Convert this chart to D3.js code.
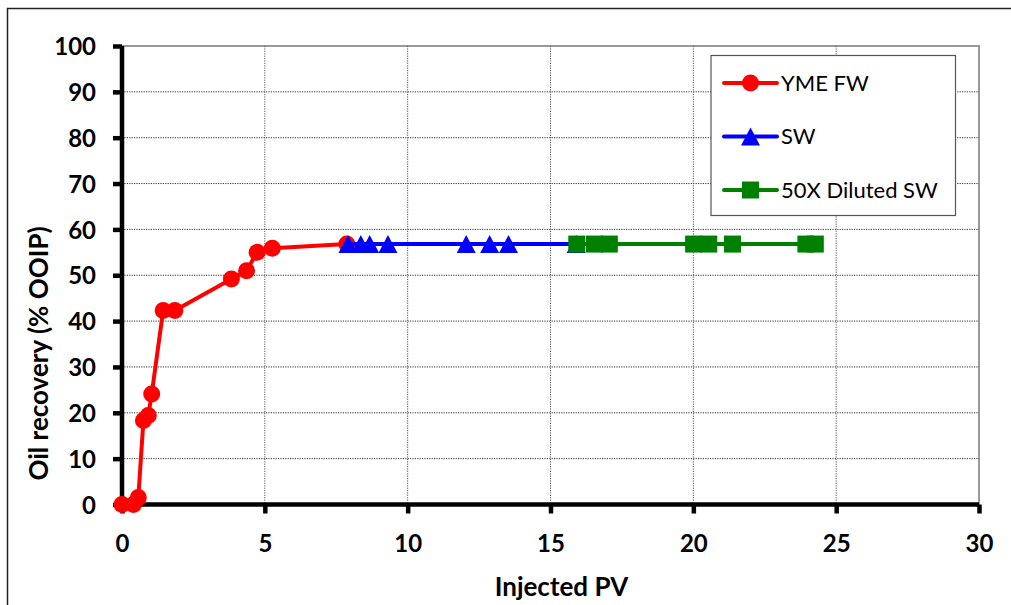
<!DOCTYPE html>
<html>
<head>
<meta charset="utf-8">
<script src="https://cdn.jsdelivr.net/npm/d3@7/dist/d3.min.js"></script>
<style>
  html, body { margin: 0; padding: 0; background: #fff; }
  svg { display: block; }
  text { font-family: Lato, "Open Sans", sans-serif; }
</style>
</head>
<body>
<svg id="chart" width="1011" height="605"></svg>
<script>
// Oil recovery vs injected pore volumes for three brine stages
const fwX = [0, 0.4, 0.57, 0.75, 0.92, 1.04, 1.44, 1.85, 3.83, 4.36, 4.73, 5.26, 7.87];
const fwY = [0, 0, 1.5, 18.3, 19.4, 24.1, 42.3, 42.3, 49.2, 51.0, 55.0, 55.9, 56.8];

const swX = [7.91, 8.36, 8.67, 9.31, 12.05, 12.87, 13.53, 15.9];
const swY = [56.8, 56.8, 56.8, 56.8, 56.8, 56.8, 56.8, 56.8];

const dswX = [15.92, 16.54, 17.06, 20.01, 20.54, 21.37, 23.94, 24.27];
const dswY = [56.8, 56.8, 56.8, 56.8, 56.8, 56.8, 56.8, 56.8];

const xTicks = [0, 5, 10, 15, 20, 25, 30];
const yTicks = [0, 10, 20, 30, 40, 50, 60, 70, 80, 90, 100];

const seriesNames = ["YME FW", "SW", "50X Diluted SW"];
const seriesColors = ["#ff0000", "#0000ff", "#008000"];
const seriesShapes = ["circle", "triangle", "square"];

(function draw() {
const svg = d3.select("#chart");
const W = 1011, H = 605;
const pL = 122, pR = 979, pT = 46, pB = 504.5;

const x = d3.scaleLinear().domain([0, 30]).range([pL, pR]);
const y = d3.scaleLinear().domain([0, 100]).range([pB, pT]);

// outer frame
svg.append("rect").attr("x", 7.5).attr("y", 8.5).attr("width", W + 20).attr("height", H + 20)
  .attr("fill", "none").attr("stroke", "#222").attr("stroke-width", 1.5);

// plot border
svg.append("rect").attr("x", pL).attr("y", pT).attr("width", pR - pL).attr("height", pB - pT)
  .attr("fill", "none").attr("stroke", "#999").attr("stroke-width", 2);

// grid lines
const grid = svg.append("g");
grid.selectAll("line.gy").data(yTicks.filter(d => d > 0 && d < 100)).join("line")
  .attr("class", "gy")
  .attr("x1", pL).attr("x2", pR).attr("y1", d => y(d)).attr("y2", d => y(d))
  .attr("stroke", "#333").attr("stroke-width", 1).attr("stroke-dasharray", "1.2,1.2");
grid.selectAll("line.gx").data(xTicks.filter(d => d > 0 && d < 30)).join("line")
  .attr("class", "gx")
  .attr("y1", pT).attr("y2", pB).attr("x1", d => x(d)).attr("x2", d => x(d))
  .attr("stroke", "#555").attr("stroke-width", 1).attr("stroke-dasharray", "1.2,1.2");

// axes
const xAxis = d3.axisBottom(x).tickValues(xTicks).tickSize(9).tickFormat(d3.format("d"));
const yAxis = d3.axisLeft(y).tickValues(yTicks).tickSize(9).tickPadding(17).tickFormat(d3.format("d"));

const gx = svg.append("g").attr("transform", `translate(0,${pB})`).call(xAxis);
const gy = svg.append("g").attr("transform", `translate(${pL},0)`).call(yAxis);
[gx, gy].forEach(g => {
  g.select(".domain").attr("stroke", "#000").attr("stroke-width", 4.5);
  g.selectAll(".tick line").attr("stroke", "#000").attr("stroke-width", 4.5);
  g.selectAll(".tick text").attr("fill", "#000").style("font-size", "24px").style("font-weight", "bold")
    .style("font-family", "Lato, 'Open Sans', sans-serif");
});
gx.select(".domain").attr("d", `M${pL},0H${pR}`);
gy.select(".domain").attr("d", `M0,${pB}V${pT}`);
gx.selectAll(".tick text").attr("y", 47.5).attr("dy", 0);
gy.selectAll(".tick text").attr("dy", "0.36em");

// axis titles
svg.append("text").attr("x", 561.5).attr("y", 596)
  .attr("text-anchor", "middle").style("font-size", "26px").style("font-weight", "bold").text("Injected PV");
svg.append("text").attr("transform", "translate(48,353.5) rotate(-90)")
  .attr("text-anchor", "middle").style("font-size", "26px").style("font-weight", "bold").text("Oil recovery (% OOIP)");

// marker drawing
function marker(g, shape, color, cx, cy) {
  if (shape === "circle") {
    g.append("circle").attr("cx", cx).attr("cy", cy).attr("r", 8.5).attr("fill", color);
  } else if (shape === "triangle") {
    g.append("path").attr("d", `M${cx},${cy - 9}L${cx + 9.5},${cy + 9}L${cx - 9.5},${cy + 9}Z`).attr("fill", color);
  } else {
    g.append("rect").attr("x", cx - 8.5).attr("y", cy - 8.5).attr("width", 17).attr("height", 17).attr("fill", color);
  }
}

const series = [
  { xs: fwX, ys: fwY },
  { xs: swX, ys: swY },
  { xs: dswX, ys: dswY }
];
const line = d3.line().x(d => x(d[0])).y(d => y(d[1]));

series.forEach((s, i) => {
  const pts = s.xs.map((v, j) => [v, s.ys[j]]);
  const g = svg.append("g");
  g.append("path").datum(pts).attr("d", line).attr("fill", "none")
    .attr("stroke", seriesColors[i]).attr("stroke-width", 4).attr("stroke-linejoin", "round");
  pts.forEach(p => marker(g, seriesShapes[i], seriesColors[i], x(p[0]), y(p[1])));
});

// legend
const lg = svg.append("g");
lg.append("rect").attr("x", 711).attr("y", 55.5).attr("width", 244.5).attr("height", 160)
  .attr("fill", "#fff").attr("stroke", "#555").attr("stroke-width", 1.2);
const rows = [83, 136.5, 190];
seriesNames.forEach((name, i) => {
  const ry = rows[i];
  lg.append("line").attr("x1", 724).attr("x2", 777).attr("y1", ry).attr("y2", ry)
    .attr("stroke", seriesColors[i]).attr("stroke-width", 4).attr("stroke-linecap", "round");
  marker(lg, seriesShapes[i], seriesColors[i], 750.5, ry);
  lg.append("text").attr("x", 781).attr("y", ry).attr("dy", "0.35em")
    .style("font-size", "22px").attr("fill", "#000").text(name);
});
})();
</script>
</body>
</html>
